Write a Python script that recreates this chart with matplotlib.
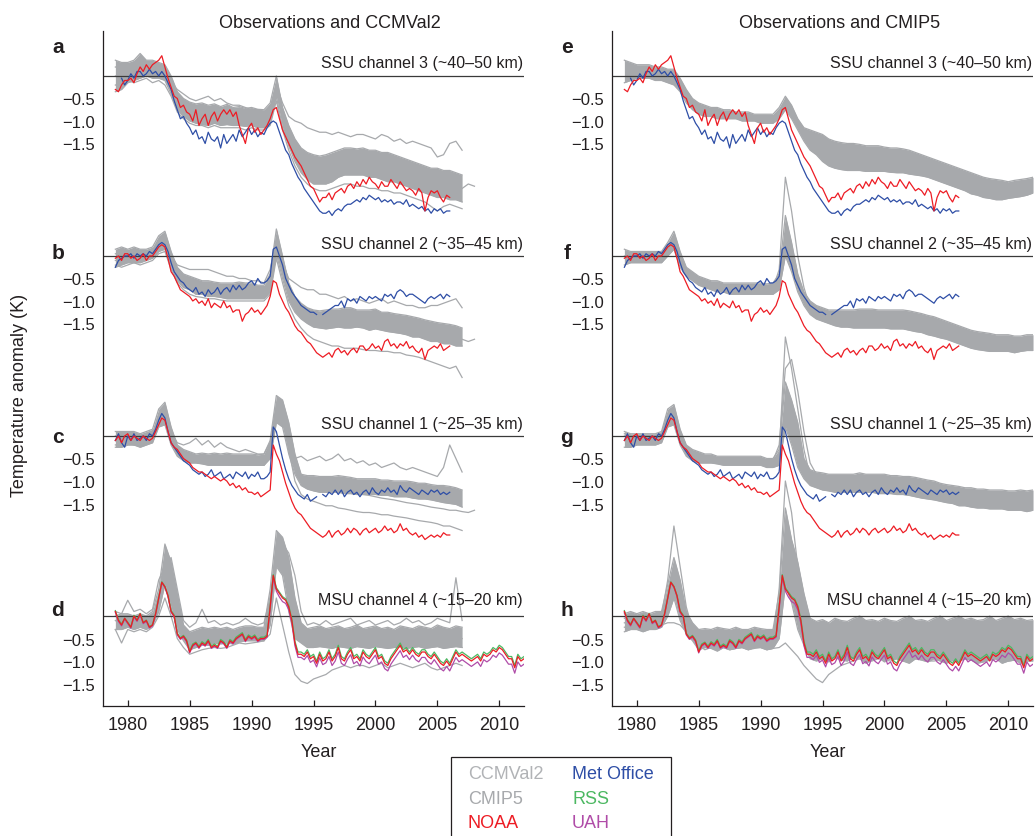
"""
Stratospheric temperature anomalies: SSU / MSU observations vs CCMVal2 and CMIP5.
"""
import numpy as np
import matplotlib.pyplot as plt
from matplotlib.patches import Rectangle

plt.rcParams['font.family'] = ['Liberation Sans', 'DejaVu Sans']

nan = np.nan
# all anomaly values below are in 0.01 K, relative to each panel's zero line

# time grids
t_ssu = 1979 + 0.25 * np.arange(109)      # quarterly 1979.0-2006.0
t_msu = 1979 + 0.25 * np.arange(133)      # quarterly 1979.0-2012.0
t_ccm = 1979 + 0.5 * np.arange(57)        # half-yearly 1979.0-2007.0
t_ccm_ext = 1979 + 0.5 * np.arange(59)    # half-yearly 1979.0-2008.0
t_cmip = 1979 + 0.5 * np.arange(67)       # half-yearly 1979.0-2012.0

# ---------------- observations ----------------
ch3_noaa = [-30, -35, -20, -10, -10, -5, -15, 5, 20, 10, 25, 15, 25, 30, 35, 45,
            20, -5, -25, -45, -50, -70, -65, -80, -85, -100, -75, -110, -95, -85, -110, -90,
            -80, -100, -85, -75, -85, -75, -90, -80, -110, -130, -150, -115, -105, -125, -115, -130,
            -120, -110, -95, -75, -70, -95, -120, -135, -150, -165, -180, -190, -200, -215, -230, -245,
            -250, -265, -280, -270, -270, -260, -275, -260, -255, -250, -260, -245, -240, -250, -235, -245,
            -230, -240, -225, -235, -240, -250, -235, -245, -245, -230, -240, -250, -235, -245, -255, -250,
            -255, -265, -250, -260, -300, -270, -255, -260, -255, -270, -280, -265, -270]
ch3_metoffice = [nan, nan, -5, -20, -10, 5, -5, 10, 10, 0, 5, 15, 5, 10, 0, 10,
                 0, -15, -30, -55, -75, -95, -90, -105, -115, -130, -120, -140, -135, -150, -125, -140,
                 -145, -135, -160, -130, -150, -140, -130, -145, -120, -135, -125, -115, -130, -120, -135, -125,
                 -130, -115, -105, -100, -105, -125, -145, -165, -175, -195, -210, -225, -235, -250, -260, -270,
                 -280, -290, -300, -305, -305, -300, -310, -300, -295, -300, -290, -285, -285, -280, -275, -280,
                 -270, -275, -265, -270, -275, -270, -280, -275, -280, -275, -285, -280, -280, -285, -275, -290,
                 -285, -290, -295, -290, -300, -295, -305, -295, -300, -295, -305, -300, -300]
ch2_noaa = [-5, 0, -10, 5, 5, -5, 0, -10, -5, 5, -10, 0, 0, 10, 20, 25,
            20, -5, -35, -45, -60, -75, -80, -85, -90, -100, -95, -105, -100, -110, -95, -115,
            -105, -110, -115, -100, -115, -110, -125, -120, -120, -145, -130, -125, -115, -125, -120, -130,
            -120, -110, -90, -55, -60, -85, -100, -115, -125, -140, -155, -165, -170, -180, -190, -195,
            -205, -215, -220, -225, -220, -215, -225, -210, -205, -215, -210, -220, -210, -205, -215, -200,
            -200, -210, -205, -195, -205, -200, -210, -190, -185, -200, -195, -205, -195, -200, -190, -205,
            -200, -210, -215, -205, -230, -210, -205, -200, -205, -195, -210, -205, -200]
ch2_metoffice = [-25, -10, -5, 0, 0, 5, -5, 5, 0, 5, 0, 10, 5, 15, 25, 30,
                 25, 10, -15, -35, -45, -55, -60, -70, -75, -80, -70, -85, -80, -90, -75, -85,
                 -80, -70, -85, -75, -70, -80, -65, -75, -65, -75, -70, -60, -55, -65, -50, -60,
                 -60, -55, -45, 15, 20, 0, -20, -50, -65, -80, -90, -100, -110, -115, -120, -125,
                 -125, -130, nan, -130, -125, -120, -115, -110, -110, -100, -115, -95, -100, -95, -105, -90,
                 -95, -100, -90, -95, -90, -95, -100, -85, -90, -85, -95, -80, -75, -80, -90, -85,
                 -85, -90, -95, -100, -105, -95, -90, -95, -90, -85, -95, -85, -90]
ch1_noaa = [-10, 0, -15, 0, 5, -10, 0, -5, -10, 0, -5, -10, -5, 10, 25, 40,
            35, 10, -15, -25, -30, -40, -50, -55, -60, -70, -75, -80, -80, -85, -90, -95,
            -90, -95, -100, -95, -100, -110, -105, -115, -110, -120, -115, -125, -125, -130, -125, -135,
            -130, -125, -120, -20, -40, -55, -80, -105, -125, -145, -160, -170, -175, -185, -195, -205,
            -210, -215, -220, -225, -220, -210, -225, -215, -210, -220, -215, -205, -215, -205, -210, -220,
            -210, -205, -215, -210, -205, -215, -210, -200, -210, -205, -215, -210, -195, -210, -205, -215,
            -220, -215, -225, -220, -230, -225, -220, -225, -220, -225, -215, -220, -220]
ch1_metoffice = [-10, 5, -15, -25, 0, -10, 5, -10, -5, 0, -10, 5, 0, 15, 35, 50,
                 40, 10, -15, -25, -35, -45, -55, -60, -65, -75, -80, -85, -80, -90, -85, -75,
                 -90, -85, -80, -95, -90, -85, -95, -80, -85, -90, -80, -95, -85, -90, -80, -95,
                 -95, -90, -80, 20, 10, -20, -50, -75, -95, -110, -120, -130, -135, -140, -130, -145,
                 -140, -135, nan, -130, -135, -125, -130, -120, -130, -120, -135, -125, -120, -130, -125, -135,
                 -125, -120, -130, -115, -125, -130, -120, -125, -115, -125, -120, -130, -110, -120, -125, -115,
                 -120, -125, -130, -120, -125, -130, -120, -125, -120, -130, -125, -130, -125]
msu4_noaa = [10, -10, -20, -5, -15, -25, 0, -10, 5, -15, -10, -25, -20, 5, 40, 75,
             65, 45, 10, 0, -40, -50, -45, -55, -80, -65, -60, -70, -60, -65, -55, -70,
             -65, -70, -55, -60, -70, -55, -60, -50, -45, -40, -55, -45, -50, -45, -55, -50,
             -50, -45, 20, 90, 60, 50, 40, 35, 20, -10, -60, -85, -85, -90, -80, -95,
             -90, -105, -85, -100, -95, -80, -100, -90, -70, -95, -100, -85, -75, -95, -90, -100,
             -80, -90, -95, -85, -75, -95, -90, -105, -110, -95, -85, -75, -65, -80, -75, -85,
             -75, -85, -90, -80, -80, -90, -95, -85, -95, -105, -110, -100, -110, -95, -80, -90,
             -85, -90, -95, -100, -95, -90, -100, -85, -90, -85, -75, -80, -70, -75, -85, -95,
             -95, -115, -90, -100, -95]
msu4_rss = [12, -8, -18, -5, -14, -24, 2, -9, 6, -14, -9, -24, -19, 6, 41, 76,
            66, 46, 12, 2, -38, -48, -43, -53, -77, -62, -58, -67, -57, -62, -52, -67,
            -62, -67, -52, -57, -67, -52, -57, -47, -42, -37, -52, -42, -47, -42, -52, -47,
            -47, -42, 23, 92, 63, 53, 43, 38, 23, -6, -56, -80, -80, -85, -75, -90,
            -85, -100, -80, -95, -90, -75, -95, -85, -65, -90, -95, -80, -70, -90, -85, -95,
            -75, -85, -90, -80, -70, -90, -85, -100, -105, -90, -80, -70, -60, -75, -70, -80,
            -70, -80, -85, -75, -75, -85, -90, -80, -90, -100, -105, -95, -105, -90, -75, -85,
            -80, -85, -90, -95, -90, -85, -95, -80, -85, -80, -70, -75, -65, -70, -80, -90,
            -90, -110, -85, -95, -90]
msu4_uah = [8, -12, -22, -7, -17, -27, -2, -12, 3, -17, -12, -27, -22, 3, 38, 73,
            64, 43, 8, -2, -42, -52, -47, -57, -82, -67, -62, -72, -62, -67, -57, -72,
            -67, -72, -57, -62, -72, -57, -62, -52, -47, -42, -57, -47, -52, -47, -57, -52,
            -52, -47, 15, 85, 55, 42, 32, 28, 14, -16, -66, -92, -92, -97, -88, -103,
            -98, -113, -93, -108, -104, -90, -110, -100, -80, -105, -110, -96, -86, -106, -101, -111,
            -91, -101, -106, -96, -87, -107, -102, -117, -122, -107, -97, -87, -77, -92, -87, -97,
            -87, -97, -102, -92, -92, -102, -107, -97, -107, -117, -122, -112, -122, -107, -92, -102,
            -97, -102, -107, -112, -107, -102, -112, -97, -102, -97, -87, -92, -82, -87, -97, -107,
            -107, -127, -102, -112, -107]

# ---------------- CCMVal2 (band of runs: upper / lower edge, plus single runs) ----------------
ccm3_hi = [35, 30, 30, 35, 50, 35, 35, 30, 25, 0, -35, -50, -58, -62, -60, -65, -62, -68, -63, -70,
           -68, -72, -70, -74, -75, -60, 0, -70, -110, -140, -160, -170, -175, -178, -175, -170, -165, -160,
           -160, -162, -160, -165, -165, -170, -170, -175, -180, -185, -190, -195, -200, -205, -205, -210,
           -210, -215, -220]
ccm3_lo = [-35, -30, -15, -10, -5, 0, -5, -5, -10, -40, -75, -90, -100, -105, -108, -110, -105, -110, -108, -110,
           -110, -112, -110, -115, -115, -105, -45, -115, -155, -190, -215, -230, -240, -240, -240, -235, -225, -220,
           -220, -220, -220, -225, -225, -230, -235, -235, -240, -245, -250, -255, -260, -265, -270, -270,
           -275, -275, -280]
ccm3_runs = [
    [20, 15, 10, 20, 25, 20, 15, 10, 5, -15, -30, -40, -50, -55, -50, -45, -55, -50, -60, -65,
     -65, -70, -75, -75, -80, -70, -20, -60, -90, -100, -105, -115, -120, -125, -125, -130, -125, -130,
     -135, -130, -130, -135, -140, -130, -135, -145, -140, -150, -145, -150, -155, -160, -180, -175,
     -150, -145, -165],
    [-20, -25, -10, -15, -10, -5, -15, -10, -20, -45, -80, -95, -105, -110, -110, -115, -110, -115, -115, -115,
     -115, -120, -115, -120, -120, -110, -55, -120, -165, -200, -225, -240, -250, -255, -255, -250, -245, -240,
     -240, -245, -245, -250, -250, -255, -255, -260, -260, -265, -270, -275, -280, -290, -300, -290,
     -285, -290, -295],
]
ccm3_ext = [0, -10, 5, 0, 10, 5, 10, 5, 0, -25, -60, -75, -85, -90, -90, -95, -90, -95, -95, -90,
            -95, -100, -95, -100, -100, -90, -30, -95, -130, -165, -190, -205, -215, -220, -215, -210, -200, -195,
            -195, -200, -200, -205, -205, -210, -210, -215, -220, -225, -230, -235, -240, -245, -250, -255,
            -255, -260, -250, -240, -245]

ccm2_hi = [15, 20, 15, 20, 15, 15, 20, 45, 55, 10, -25, -40, -45, -50, -55, -55, -58, -60, -60, -60,
           -58, -60, -60, -65, -65, -40, 60, 0, -60, -90, -105, -115, -120, -122, -120, -118, -118, -115,
           -115, -120, -120, -120, -118, -125, -125, -128, -130, -132, -135, -138, -142, -145, -148, -150,
           -152, -155, -160]
ccm2_lo = [-25, -20, -15, -15, -15, -10, -5, 10, 15, -25, -55, -70, -75, -85, -85, -90, -90, -92, -95, -95,
           -95, -95, -95, -95, -95, -80, 5, -50, -100, -125, -140, -150, -158, -160, -162, -160, -158, -160,
           -160, -158, -160, -165, -162, -165, -168, -170, -172, -175, -180, -180, -185, -190, -190, -195,
           -195, -200, -200]
ccm2_runs = [
    [5, 0, 5, 0, 0, 5, 5, 30, 40, 0, -20, -25, -30, -30, -30, -30, -35, -40, -45, -45,
     -50, -50, -55, -55, -60, -30, 40, -15, -50, -60, -70, -75, -75, -85, -85, -90, -95, -90,
     -100, -95, -100, -105, -100, -95, -105, -100, -105, -110, -110, -115, -115, -110, -110, -105,
     -100, -95, -115],
    [-20, -25, -20, -15, -20, -15, -10, 5, 10, -30, -60, -75, -85, -90, -92, -95, -95, -98, -100, -100,
     -100, -100, -100, -100, -100, -85, -5, -60, -110, -140, -160, -175, -185, -190, -195, -200, -200, -205,
     -205, -205, -208, -210, -210, -212, -212, -215, -215, -220, -222, -225, -230, -235, -240, -245,
     -250, -245, -270],
]
ccm2_ext = [-10, -5, 0, -5, 0, -5, 5, 25, 35, -10, -40, -55, -60, -70, -70, -75, -75, -78, -80, -80,
            -80, -82, -80, -80, -82, -60, 30, -25, -80, -105, -120, -130, -138, -140, -140, -140, -138, -140,
            -140, -142, -142, -145, -145, -148, -150, -152, -155, -158, -160, -165, -168, -170, -175, -178,
            -180, -183, -185, -190, -185]

ccm1_hi = [10, 10, 10, 10, 5, 10, 15, 60, 75, 20, -20, -30, -35, -40, -38, -40, -38, -40, -38, -40,
           -40, -40, -40, -42, -40, -10, 90, 80, 30, -40, -85, -88, -88, -90, -90, -90, -88, -90,
           -92, -95, -95, -95, -95, -98, -98, -100, -100, -100, -102, -105, -105, -108, -110, -110,
           -112, -115, -120]
ccm1_lo = [-25, -25, -20, -20, -25, -20, -15, 20, 25, -20, -45, -55, -60, -60, -62, -65, -65, -65, -65, -65,
           -65, -65, -65, -65, -65, -50, 30, 20, -40, -85, -110, -118, -122, -125, -125, -125, -125, -128,
           -128, -130, -130, -130, -130, -132, -132, -135, -135, -135, -138, -140, -140, -142, -145, -148,
           -150, -152, -158]
ccm1_runs = [
    [0, 5, 0, 5, 0, 0, 5, 40, 55, 10, -15, -20, -15, -5, -20, -10, -25, -15, -25, -30,
     -35, -30, -35, -40, -40, -15, 70, 60, 10, -50, -45, -55, -50, -45, -55, -50, -40, -55,
     -50, -60, -55, -65, -60, -70, -65, -60, -70, -75, -70, -75, -80, -85, -90, -70,
     -20, -50, -80],
    [-20, -15, -15, -20, -20, -15, -10, 30, 40, -10, -40, -50, -55, -58, -60, -60, -62, -62, -62, -65,
     -65, -65, -65, -65, -65, -40, 50, 40, -30, -100, -130, -140, -145, -150, -155, -155, -160, -162,
     -165, -168, -170, -170, -172, -175, -175, -178, -180, -182, -185, -188, -190, -192, -195, -200,
     -200, -205, -210],
]
ccm1_ext = [-10, -10, -5, -10, -10, -5, 0, 40, 50, 0, -30, -40, -45, -50, -50, -52, -52, -55, -55, -55,
            -55, -55, -55, -55, -55, -30, 60, 50, -10, -70, -100, -110, -115, -118, -120, -122, -122, -125,
            -125, -128, -130, -132, -135, -138, -140, -142, -145, -148, -150, -152, -155, -158, -160, -162,
            -165, -165, -168, -170, -165]

ccm4_hi = [0, 5, 5, 0, 5, 0, 10, 60, 160, 120, 50, -20, -35, -30, -25, -28, -25, -28, -25, -30,
           -25, -22, -22, -25, -25, 60, 190, 175, 130, 40, -15, -28, -25, -22, -28, -25, -22, -28,
           -25, -20, -28, -25, -22, -28, -25, -30, -22, -25, -28, -22, -25, -28, -20, -25,
           -28, -22, -25]
ccm4_lo = [-30, -30, -25, -30, -25, -30, -20, 10, 70, 20, -30, -55, -75, -70, -65, -65, -60, -62, -60, -62,
           -58, -55, -55, -55, -55, -20, 110, 90, 10, -50, -60, -70, -70, -68, -70, -72, -68, -70,
           -72, -68, -70, -72, -68, -70, -72, -70, -68, -72, -70, -68, -72, -70, -68, -72,
           -70, -68, -70]
ccm4_runs = [
    [-30, -60, -30, -35, -30, -35, -25, 0, 40, 0, -50, -70, -85, -80, -75, -72, -70, -72, -70, -65,
     -60, -62, -60, -58, -55, -40, 40, -20, -80, -130, -145, -150, -140, -135, -130, -120, -115, -110,
     -115, -110, -110, -115, -110, -105, -115, -110, -105, -110, -115, -110, -105, -115, -120, -115,
     -110, -105, -110],
    [10, 5, 35, 10, 15, 5, 15, 80, 110, 130, 60, -10, -25, -15, 15, -15, -10, -20, -15, -20,
     -15, -5, -15, -20, -15, 40, 120, 160, 140, 90, 10, -20, -15, -20, -10, -20, -15, -10,
     -5, -20, -15, -10, -20, -15, -10, -20, -15, -5, -15, -10, -20, -15, -5, -10,
     -15, 85, -10],
    [-10, -20, -5, -15, -20, -5, -15, 30, 110, 70, 10, -40, -55, -45, -40, -50, -35, -55, -45, -40,
     -50, -35, -40, -45, -35, 30, 160, 130, 80, -5, -45, -60, -40, -55, -65, -35, -50, -60,
     -30, -55, -60, -40, -45, -65, -35, -55, -60, -40, -50, -65, -40, -55, -60, -35,
     -55, -45, -50],
]

# ---------------- CMIP5 ----------------
cmip3_hi = [35, 30, 25, 25, 25, 20, 20, 15, 15, -5, -30, -50, -60, -65, -70, -70, -75, -75, -80, -80,
            -80, -85, -85, -85, -85, -70, -45, -65, -95, -115, -120, -125, -130, -140, -145, -148, -150, -150,
            -152, -155, -155, -155, -158, -160, -160, -162, -165, -170, -175, -180, -185, -190, -195, -200,
            -205, -210, -215, -220, -225, -228, -230, -232, -235, -232, -230, -228, -225]
cmip3_lo = [-15, -10, -5, -5, -5, -10, -10, -15, -20, -35, -60, -75, -85, -90, -90, -95, -95, -95, -95, -100,
            -100, -100, -105, -105, -105, -95, -75, -95, -120, -145, -165, -175, -190, -200, -205, -208, -210, -210,
            -210, -212, -212, -212, -212, -214, -215, -215, -218, -220, -222, -225, -230, -235, -240, -245,
            -250, -255, -262, -265, -270, -272, -275, -275, -272, -270, -268, -265, -260]
cmip3_runs = []

cmip2_hi = [15, 10, 10, 10, 10, 10, 10, 30, 55, 10, -25, -35, -45, -50, -55, -55, -60, -60, -60, -60,
            -60, -60, -60, -62, -60, -40, 90, 30, -40, -80, -100, -110, -115, -120, -120, -120, -120, -120,
            -118, -118, -118, -120, -120, -120, -120, -120, -122, -125, -128, -132, -135, -140, -145, -150,
            -155, -160, -165, -168, -170, -172, -175, -175, -175, -178, -178, -175, -175]
cmip2_lo = [-20, -15, -15, -15, -15, -15, -15, 0, 15, -25, -45, -55, -65, -70, -75, -80, -80, -85, -85, -85,
            -85, -85, -85, -85, -85, -75, 0, -35, -80, -110, -130, -140, -145, -150, -155, -158, -158, -160,
            -160, -160, -160, -160, -160, -162, -162, -162, -165, -168, -170, -175, -178, -182, -185, -190,
            -195, -200, -205, -208, -210, -212, -212, -212, -212, -215, -212, -210, -210]
cmip2_runs = [
    [0, -5, -5, 0, -5, 0, -5, 15, 35, -10, -35, -45, -55, -60, -65, -68, -70, -72, -72, -72,
     -72, -72, -72, -74, -72, -30, 175, 100, 0, -70, -115, -125, -130, -135, -138, -140, -140, -140,
     -140, -138, -138, -140, -140, -142, -142, -142, -145, -148, -150, -155, -158, -162, -165, -170,
     -175, -180, -185, -188, -190, -192, -195, -195, -195, -198, -195, -192, -192],
]

cmip1_hi = [10, 5, 5, 5, 5, 5, 10, 60, 70, 15, -20, -30, -35, -40, -40, -45, -45, -45, -45, -45,
            -45, -45, -45, -50, -50, -30, 120, 80, 30, -50, -75, -80, -82, -85, -85, -85, -85, -85,
            -82, -85, -85, -85, -85, -88, -88, -90, -90, -92, -95, -98, -100, -105, -108, -110,
            -112, -115, -115, -118, -118, -120, -120, -120, -122, -122, -120, -122, -120]
cmip1_lo = [-25, -25, -20, -20, -20, -20, -15, 20, 25, -20, -45, -55, -60, -60, -60, -62, -65, -65, -65, -65,
            -65, -65, -65, -70, -70, -65, 20, -20, -70, -95, -110, -115, -120, -122, -125, -125, -125, -125,
            -125, -125, -125, -128, -128, -128, -130, -130, -132, -135, -138, -140, -142, -145, -148, -150,
            -155, -155, -158, -160, -160, -162, -162, -162, -165, -165, -165, -168, -165]
cmip1_runs = [
    [0, -5, -5, -5, -5, -5, 0, 40, 50, -5, -30, -40, -45, -50, -52, -55, -55, -55, -55, -55,
     -55, -55, -55, -58, -60, -40, 220, 150, 60, -30, -90, -100, -105, -108, -110, -110, -110, -110,
     -108, -110, -110, -112, -112, -115, -115, -115, -118, -120, -122, -125, -128, -130, -135, -138,
     -140, -142, -145, -148, -150, -150, -150, -152, -152, -155, -155, -155, -150],
    [5, 0, 0, 0, 0, -5, 5, 50, 60, 5, -25, -35, -40, -45, -48, -50, -50, -50, -50, -52,
     -52, -52, -52, -55, -55, -20, 150, 170, 100, 10, -60, -85, -95, -100, -100, -102, -100, -100,
     -100, -102, -102, -105, -105, -108, -108, -110, -110, -112, -115, -118, -120, -125, -128, -130,
     -132, -135, -138, -140, -142, -142, -145, -145, -145, -148, -148, -148, -145],
]

cmip4_hi = [5, 10, 5, 10, 5, 10, 10, 70, 130, 80, 10, -15, -30, -28, -30, -25, -28, -30, -25, -30,
            -30, -25, -28, -30, -30, 50, 240, 170, 120, 50, -5, -12, -8, -15, -5, -10, -12, -5,
            0, -10, -8, -12, -5, -10, -12, -5, 0, -10, -8, -12, -5, 0, -10, -5,
            0, -8, -5, -10, -8, 0, -10, -5, 0, -8, -5, -10, -8]
cmip4_lo = [-35, -30, -30, -35, -30, -30, -25, 0, 40, -10, -40, -55, -75, -70, -72, -78, -70, -75, -72, -70,
            -75, -70, -70, -75, -72, -50, 70, 30, -30, -65, -95, -100, -95, -102, -92, -98, -100, -92,
            -95, -105, -98, -92, -102, -95, -95, -100, -105, -95, -98, -102, -95, -100, -105, -98,
            -100, -95, -98, -105, -102, -98, -95, -105, -100, -98, -105, -100, -100]
cmip4_runs = [
    [-5, 0, -5, 0, -5, 0, 0, 80, 200, 110, 20, -30, -45, -45, -45, -48, -45, -48, -48, -45,
     -48, -50, -48, -50, -50, 60, 300, 230, 110, 0, -50, -55, -55, -52, -50, -55, -52, -50,
     -48, -55, -50, -52, -52, -48, -55, -50, -48, -52, -52, -55, -50, -48, -55, -52,
     -48, -50, -52, -55, -50, -48, -55, -52, -48, -50, -52, -55, -50],
    [-25, -20, -20, -25, -20, -25, -20, -15, -15, -20, -35, -50, -65, -75, -70, -72, -70, -75, -72, -70,
     -75, -72, -70, -75, -72, -70, -60, -75, -90, -110, -125, -140, -148, -130, -120, -110, -105, -100,
     -95, -100, -100, -95, -98, -100, -95, -100, -100, -95, -95, -100, -100, -98, -95, -100,
     -100, -95, -98, -100, -100, -95, -95, -100, -100, -98, -100, -95, -98],
    [-15, -20, -10, -25, -15, -5, -20, 30, 90, 40, -10, -40, -55, -45, -50, -60, -40, -55, -50, -45,
     -55, -40, -45, -50, -40, 20, 150, 100, 30, -30, -55, -65, -50, -60, -40, -70, -55, -45,
     -65, -40, -50, -60, -35, -55, -65, -45, -50, -60, -40, -55, -60, -45, -50, -65,
     -45, -55, -60, -40, -55, -50, -45, -60, -50, -40, -60, -55, -50],
]

# ---------------- styling ----------------
GREY = '#a7a9ac'
RED = '#ed1c24'
BLUE = '#2e4ea6'
GREEN = '#4cb862'
PURPLE = '#b04ca8'
INK = '#231f20'

offsets = [0, -4, -8, -12]
channels = ['SSU channel 3 (~40\u201350 km)', 'SSU channel 2 (~35\u201345 km)',
            'SSU channel 1 (~25\u201335 km)', 'MSU channel 4 (~15\u201320 km)']
title_dy = [0.30, 0.27, 0.28, 0.36]
letter_dy = [0.66, 0.07, -0.02, 0.15]


def k(v):
    return np.array(v, dtype=float) / 100.0


def draw_band(ax, t, hi, lo, runs, off, t_ext=None, ext=None):
    ax.fill_between(t, k(lo) + off, k(hi) + off, color=GREY, lw=0, zorder=1)
    ax.plot(t, k(hi) + off, color=GREY, lw=0.9, zorder=1)
    ax.plot(t, k(lo) + off, color=GREY, lw=0.9, zorder=1)
    for r in runs:
        ax.plot(t, k(r) + off, color=GREY, lw=0.9, zorder=1)
    if ext is not None:
        ax.plot(t_ext, k(ext) + off, color=GREY, lw=0.9, zorder=1)


def draw_obs(ax):
    for i, off in enumerate(offsets[:3]):
        mo = [ch3_metoffice, ch2_metoffice, ch1_metoffice][i]
        no = [ch3_noaa, ch2_noaa, ch1_noaa][i]
        ax.plot(t_ssu, k(mo) + off, color=BLUE, lw=0.9, zorder=3)
        ax.plot(t_ssu, k(no) + off, color=RED, lw=0.9, zorder=4)
    off = offsets[3]
    ax.plot(t_msu, k(msu4_uah) + off, color=PURPLE, lw=0.9, zorder=3)
    ax.plot(t_msu, k(msu4_rss) + off, color=GREEN, lw=0.9, zorder=3)
    ax.plot(t_msu, k(msu4_noaa) + off, color=RED, lw=0.9, zorder=4)


def style_axes(ax, letters, title):
    ax.set_xlim(1978, 2012)
    ax.set_ylim(-14, 1)
    for s in ['top', 'right']:
        ax.spines[s].set_visible(False)
    for s in ['left', 'bottom']:
        ax.spines[s].set_color(INK)
        ax.spines[s].set_linewidth(0.9)
    yt, yl = [], []
    for off in offsets:
        ax.axhline(off, color='#3a3a3a', lw=0.9, zorder=2)
        for v in [-0.5, -1.0, -1.5]:
            yt.append(off + v)
            yl.append('\u2212%.1f' % abs(v))
    ax.set_yticks(yt)
    ax.set_yticklabels(yl)
    ax.tick_params(axis='y', length=0, pad=6, labelsize=12, labelcolor=INK)
    ax.set_xticks(range(1980, 2011, 5))
    ax.tick_params(axis='x', direction='in', length=4, width=0.9, color=INK,
                   pad=7, labelsize=13, labelcolor=INK)
    for i, off in enumerate(offsets):
        ax.text(2011.9, off + title_dy[i], channels[i], ha='right', va='center',
                fontsize=11.5, color=INK)
        ax.text(-0.107, off + letter_dy[i], letters[i], transform=ax.get_yaxis_transform(),
                ha='center', va='center', fontsize=15, fontweight='bold', color=INK)
    ax.text(0.54, 1.013, title, transform=ax.transAxes, ha='center', va='center',
            fontsize=13, color=INK)
    ax.text(0.512, -0.067, 'Year', transform=ax.transAxes, ha='center', va='center',
            fontsize=13, color=INK)


fig = plt.figure(figsize=(10.35, 8.37), dpi=100)
ax_l = fig.add_axes([0.0995, 0.1553, 0.4068, 0.8065])
ax_r = fig.add_axes([0.5913, 0.1553, 0.4068, 0.8065])

# left: CCMVal2
draw_band(ax_l, t_ccm, ccm3_hi, ccm3_lo, ccm3_runs, 0, t_ccm_ext, ccm3_ext)
draw_band(ax_l, t_ccm, ccm2_hi, ccm2_lo, ccm2_runs, -4, t_ccm_ext, ccm2_ext)
draw_band(ax_l, t_ccm, ccm1_hi, ccm1_lo, ccm1_runs, -8, t_ccm_ext, ccm1_ext)
draw_band(ax_l, t_ccm, ccm4_hi, ccm4_lo, ccm4_runs, -12)
draw_obs(ax_l)
style_axes(ax_l, ['a', 'b', 'c', 'd'], 'Observations and CCMVal2')

# right: CMIP5
draw_band(ax_r, t_cmip, cmip3_hi, cmip3_lo, cmip3_runs, 0)
draw_band(ax_r, t_cmip, cmip2_hi, cmip2_lo, cmip2_runs, -4)
draw_band(ax_r, t_cmip, cmip1_hi, cmip1_lo, cmip1_runs, -8)
draw_band(ax_r, t_cmip, cmip4_hi, cmip4_lo, cmip4_runs, -12)
draw_obs(ax_r)
style_axes(ax_r, ['e', 'f', 'g', 'h'], 'Observations and CMIP5')

fig.text(0.0193, 0.528, 'Temperature anomaly (K)', rotation=90, ha='center', va='center',
         fontsize=13, color=INK)

# legend (text only, boxed)
fig.patches.append(Rectangle((0.4357, -0.05), 0.2126, 0.1444, transform=fig.transFigure,
                             fill=False, edgecolor=INK, lw=0.9))
legend_items = [('CCMVal2', '#b1b3b6', 0.452, 0.0741), ('CMIP5', '#a7a9ac', 0.452, 0.0454),
                ('NOAA', RED, 0.452, 0.0167), ('Met Office', BLUE, 0.5527, 0.0741),
                ('RSS', GREEN, 0.5527, 0.0454), ('UAH', PURPLE, 0.5527, 0.0167)]
for name, col, x, y in legend_items:
    fig.text(x, y, name, color=col, ha='left', va='center', fontsize=13)

fig.savefig('out.png', dpi=100)
